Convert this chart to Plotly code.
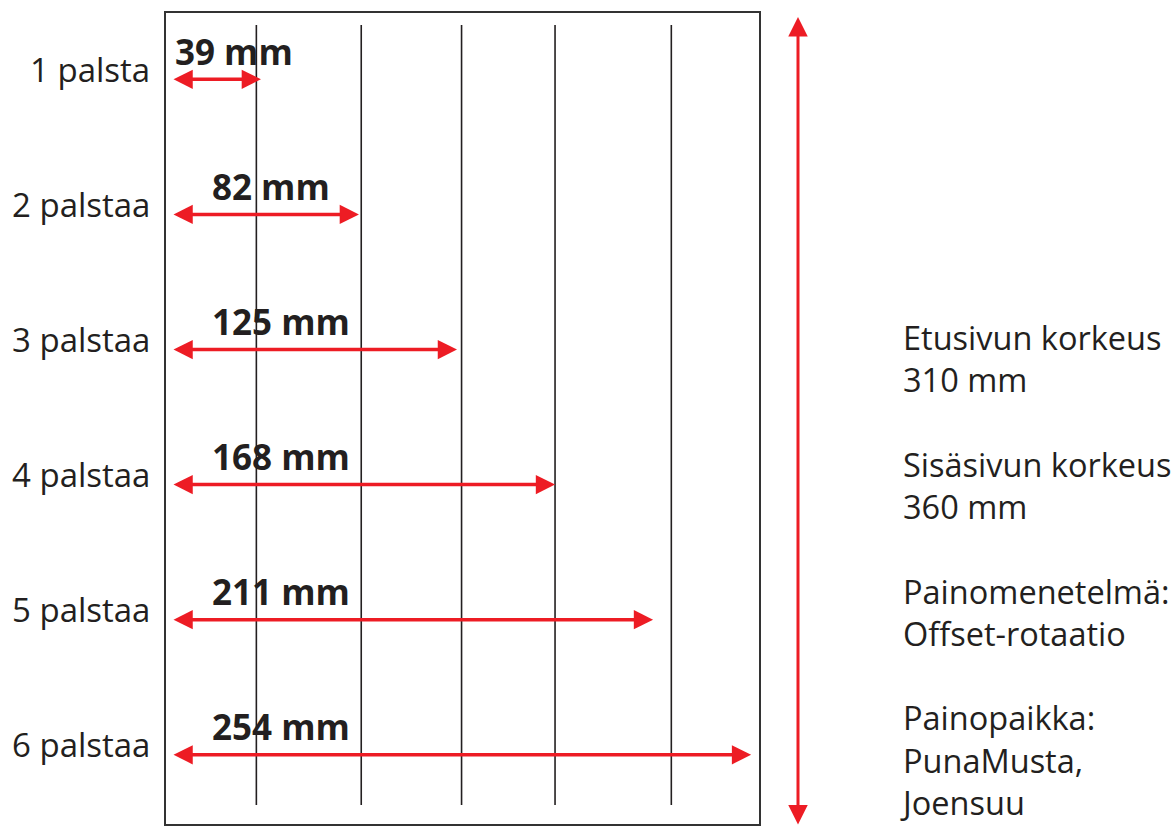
import plotly.graph_objects as go

# ---- data ----
columns = ["1 palsta", "2 palstaa", "3 palstaa", "4 palstaa", "5 palstaa", "6 palstaa"]
widths_mm = [39, 82, 125, 168, 211, 254]
column_rules_mm = [37, 83, 127, 168, 219]
info_lines = ["Etusivun korkeus", "310 mm", "", "Sisäsivun korkeus", "360 mm", "",
              "Painomenetelmä:", "Offset-rotaatio", "", "Painopaikka:", "PunaMusta,", "Joensuu"]

# ---- style ----
W, H = 1175, 826
RED = "#ED1C24"
INK = "#231F20"
X0_PX = 172.0
PX_PER_MM = 2.28
ROW0_PX, ROW_STEP = 79.3, 135.1


def px(x):
    return x / W


def py(y):
    return 1 - y / H


fig = go.Figure()
# invisible trace to establish the category axis
fig.add_trace(go.Scatter(x=[0] * len(columns), y=columns, mode="markers",
                         marker=dict(opacity=0), hoverinfo="skip", showlegend=False))

annotations = []
for cat, w in zip(columns, widths_mm):
    annotations.append(dict(
        x=w, y=cat, xref="x", yref="y", ax=0, ay=0, axref="x", ayref="pixel",
        text="", showarrow=True, arrowside="end+start",
        arrowhead=2, startarrowhead=2, arrowsize=1.1, startarrowsize=1.1,
        arrowwidth=3.5, arrowcolor=RED, standoff=0, startstandoff=0))
    annotations.append(dict(
        x=0, y=cat, xref="x", yref="y", xanchor="left", yanchor="middle",
        xshift=1 if w < 50 else 38, yshift=28, showarrow=False,
        text=f"<b>{w} mm</b>", font=dict(family="Open Sans", size=35, color=INK)))
    annotations.append(dict(
        x=px(152), y=cat, xref="paper", yref="y", xanchor="right", yanchor="middle",
        yshift=10, showarrow=False, text=cat,
        font=dict(family="Open Sans", size=33, color=INK)))

# vertical height arrow
annotations.append(dict(
    x=px(798), y=py(17), xref="paper", yref="paper",
    ax=0, ay=815, axref="pixel", ayref="pixel",
    text="", showarrow=True, arrowside="end+start",
    arrowhead=2, startarrowhead=2, arrowsize=1.3, startarrowsize=1.3,
    arrowwidth=3, arrowcolor=RED, standoff=0, startstandoff=0))

annotations.append(dict(
    x=px(898), y=py(570), xref="paper", yref="paper", xanchor="left", yanchor="middle",
    align="left", showarrow=False, text="<br>".join(info_lines),
    font=dict(family="Open Sans", size=32.5, color=INK)))

shapes = [dict(type="rect", xref="paper", yref="paper", x0=px(165), x1=px(760),
               y0=py(825), y1=py(12), line=dict(color="#333333", width=2))]
for c in column_rules_mm:
    shapes.append(dict(type="line", xref="x", yref="paper", x0=c, x1=c,
                       y0=py(805), y1=py(25), line=dict(color=INK, width=1.6)))

fig.update_layout(
    width=W, height=H, margin=dict(l=0, r=0, t=0, b=0),
    paper_bgcolor="white", plot_bgcolor="white",
    xaxis=dict(range=[-X0_PX / PX_PER_MM, (W - X0_PX) / PX_PER_MM], visible=False),
    yaxis=dict(type="category", categoryorder="array", categoryarray=columns,
               range=[(H - ROW0_PX) / ROW_STEP, -ROW0_PX / ROW_STEP], visible=False),
    annotations=annotations, shapes=shapes, showlegend=False)

fig.write_html("out.html", config={"displayModeBar": False},
               post_script="document.body.style.margin='0';document.body.style.overflow='hidden';")
